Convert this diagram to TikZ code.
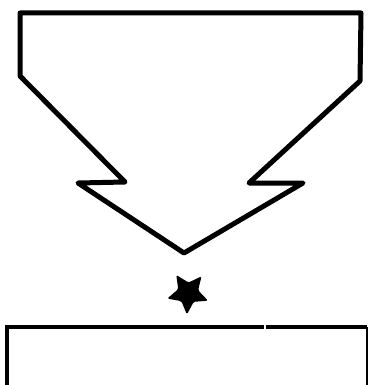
\documentclass[tikz,border=0pt]{standalone}
\usetikzlibrary{calc}
\begin{document}
\begin{tikzpicture}[x=1pt,y=-1pt,
  outline/.style={draw=black,line width=5pt,line join=round,fill=white},
  boxline/.style={draw=black,line width=3.2pt},
  thinline/.style={draw=black,line width=1.5pt}]
\useasboundingbox (0,0) rectangle (368,385);
% arrow-shaped block
\coordinate (p1) at (20,13);
\coordinate (p2) at (361,13);
\coordinate (p3) at (360,81);
\coordinate (p4) at (249,183);
\coordinate (p5) at (303,183);
\coordinate (tip) at (184,253);
\coordinate (p7) at (78,183);
\coordinate (p8) at (125,182);
\coordinate (p9) at (20,76);
\draw[outline] (p1) -- (p2) -- (p3) -- (p4) -- (p5) -- (tip) -- (p7) -- (p8) -- (p9) -- cycle;
% star
\coordinate (sc) at (188,293);
\fill[black,rounded corners=1.5pt]
  ($(sc)+(93:21.5)$) -- ($(sc)+(129:10.5)$) -- ($(sc)+(165:21.5)$) -- ($(sc)+(201:10.5)$)
  -- ($(sc)+(237:21.5)$) -- ($(sc)+(273:10.5)$) -- ($(sc)+(309:21.5)$) -- ($(sc)+(345:10.5)$)
  -- ($(sc)+(21:21.5)$) -- ($(sc)+(57:10.5)$) -- cycle;
% bottom box
\coordinate (bl) at (7,390);
\coordinate (tl) at (7,327);
\coordinate (g1) at (264,327);
\coordinate (g2) at (266,327);
\coordinate (tr) at (367,327);
\coordinate (br) at (367,390);
\draw[boxline] (bl) -- (tl) -- (g1);
\draw[boxline] (g2) -- (tr);
\draw[thinline] (tr) -- (br);
\end{tikzpicture}
\end{document}
